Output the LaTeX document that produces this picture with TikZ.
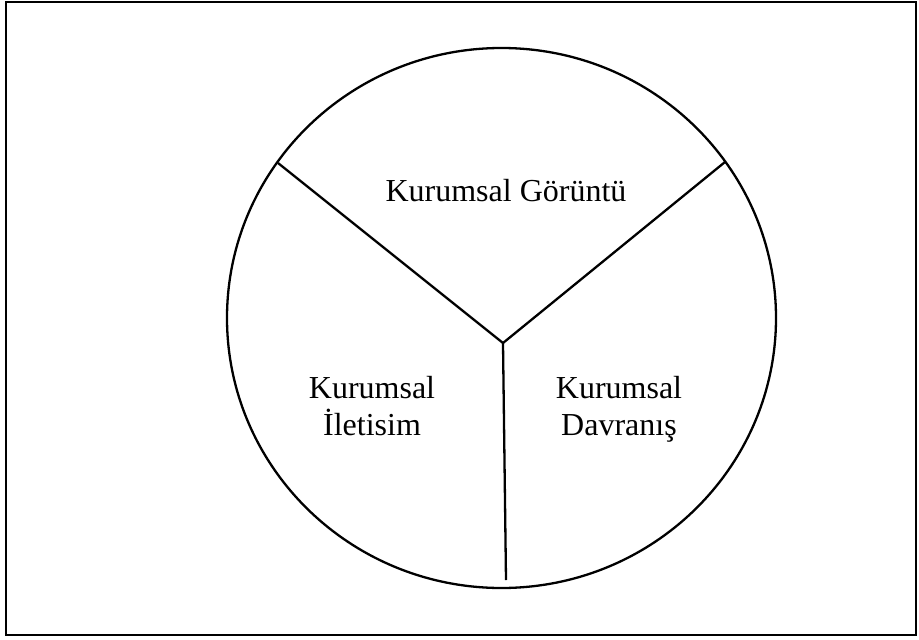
\documentclass[tikz,border=0pt]{standalone}
\usepackage{fontspec}
\setmainfont{Liberation Serif}
\begin{document}
\begin{tikzpicture}[x=1pt,y=-1pt,
  lbl/.style={anchor=base,inner sep=0pt,font=\fontsize{32}{37}\selectfont},
  frame/.style={draw=black,line width=2.4pt},
  divider/.style={draw=black,line width=2.3pt}]
\useasboundingbox (0,0) rectangle (919,640);
\draw[frame] (6,2) rectangle (916,635);
\draw[divider] (501.5,318) ellipse [x radius=274.5, y radius=270];
\coordinate (hub) at (503,343);
\coordinate (endL) at (278,163);
\coordinate (endR) at (725,162);
\coordinate (endB) at (506,580);
\draw[divider] (hub) -- (endL);
\draw[divider] (hub) -- (endR);
\draw[divider] (hub) -- (endB);
\node[lbl] (gor) at (506,201) {Kurumsal Görüntü};
\node[lbl] (il1) at (372,398) {Kurumsal};
\node[lbl] (il2) at (372,435) {İletisim};
\node[lbl] (dv1) at (619,398) {Kurumsal};
\node[lbl] (dv2) at (619,435) {Davranış};
\end{tikzpicture}
\end{document}
